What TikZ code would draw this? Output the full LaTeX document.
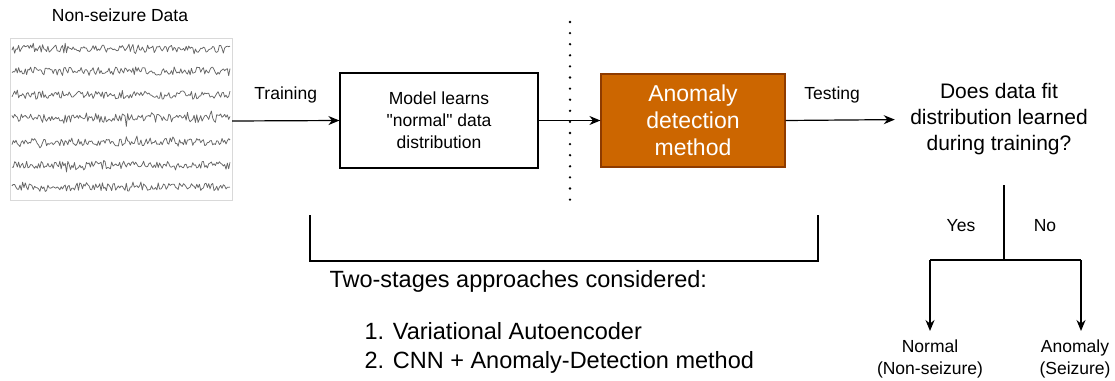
\documentclass[tikz,border=0pt]{standalone}
\usepackage{fontspec}
\setmainfont{Liberation Sans}[Ligatures=TeXOff]
\usetikzlibrary{arrows.meta}
\definecolor{anomfill}{HTML}{CC6600}
\definecolor{anomedge}{HTML}{8E3B00}
\tikzset{
  box/.style={draw=black, line width=1.2pt, minimum width=198pt, minimum height=95pt, align=center, font=\fontsize{17.5}{22}\selectfont},
  anombox/.style={draw=anomedge, fill=anomfill, line width=1.2pt, minimum width=184pt, minimum height=93pt, align=center, text=white, font=\fontsize{23}{27}\selectfont},
  lbl/.style={font=\fontsize{17.5}{22}\selectfont, align=center},
  conn/.style={line width=1.2pt, -{Stealth[length=11pt,width=9pt]}},
  plain/.style={line width=1.2pt},
  trace/.style={draw=black!60, line width=0.75pt, line join=round}
}
\begin{document}
\begin{tikzpicture}[x=1pt,y=-1pt]
\useasboundingbox (0,0) rectangle (1115,380);

% EEG panel
\node[lbl] (title) at (120,15) {Non-seizure Data};
\draw[black!15, line width=0.6pt] (10,38) rectangle (232,200);
\coordinate (eegout) at (232,121);
\pgfmathsetseed{4711}
\foreach \yy in {49,71,95,118,142,165,187}{
  \draw[trace] plot[domain=12:230, samples=165] (\x,{\yy+4*rand+8*rand*rand*rand*rand});
}

% main pipeline
\node[box] (model) at (439,120.5) {Model learns\\"normal" data\\distribution};
\node[anombox] (anom) at (693,120.5) {Anomaly\\detection\\method};
\node[font=\fontsize{21}{26}\selectfont, align=center] (question) at (999,119.5) {Does data fit\\distribution learned\\during training?};

\draw[conn] (eegout) -- (model.west) node[lbl, midway, above=14pt] (trainlbl) {Training};
\draw[conn] (model.east) -- (anom.west);
\draw[conn, shorten >=12pt] (anom.east) -- (question.west) node[lbl, midway, above=13pt, xshift=-14pt] (testlbl) {Testing};

% separator between stages
\coordinate (sepTop) at (570,22);
\coordinate (sepBot) at (570,200);
\draw[line width=2.6pt, dash pattern=on 0pt off 11.1pt, line cap=round] (sepTop) -- (sepBot);

% bracket under the two stages
\coordinate (brL) at (310,215);
\coordinate (brR) at (818,215);
\draw[plain] (brL) -- (310,261) -- (818,261) -- (brR);
\node[font=\fontsize{23.5}{28}\selectfont, anchor=west] (approach) at (326,281) {Two-stages approaches considered:};
\node[font=\fontsize{23.5}{29}\selectfont, anchor=west, align=left] (list) at (361,348) {1. Variational Autoencoder\\2. CNN + Anomaly-Detection method};

% decision branches
\coordinate (qdown) at (1004,185);
\coordinate (split) at (1004,260);
\coordinate (yesTop) at (930,260);
\coordinate (noTop) at (1081,260);
\node[lbl] (normal) at (930,359) {Normal\\(Non-seizure)};
\node[lbl] (anomaly) at (1075,359) {Anomaly\\(Seizure)};
\draw[plain] (qdown) -- (split);
\draw[plain] (yesTop) -- (noTop);
\draw[conn] (yesTop) -- (930,331);
\draw[conn] (noTop) -- (1081,331);
\node[lbl] (yes) at (961,226) {Yes};
\node[lbl] (no) at (1045,226) {No};
\end{tikzpicture}
\end{document}
